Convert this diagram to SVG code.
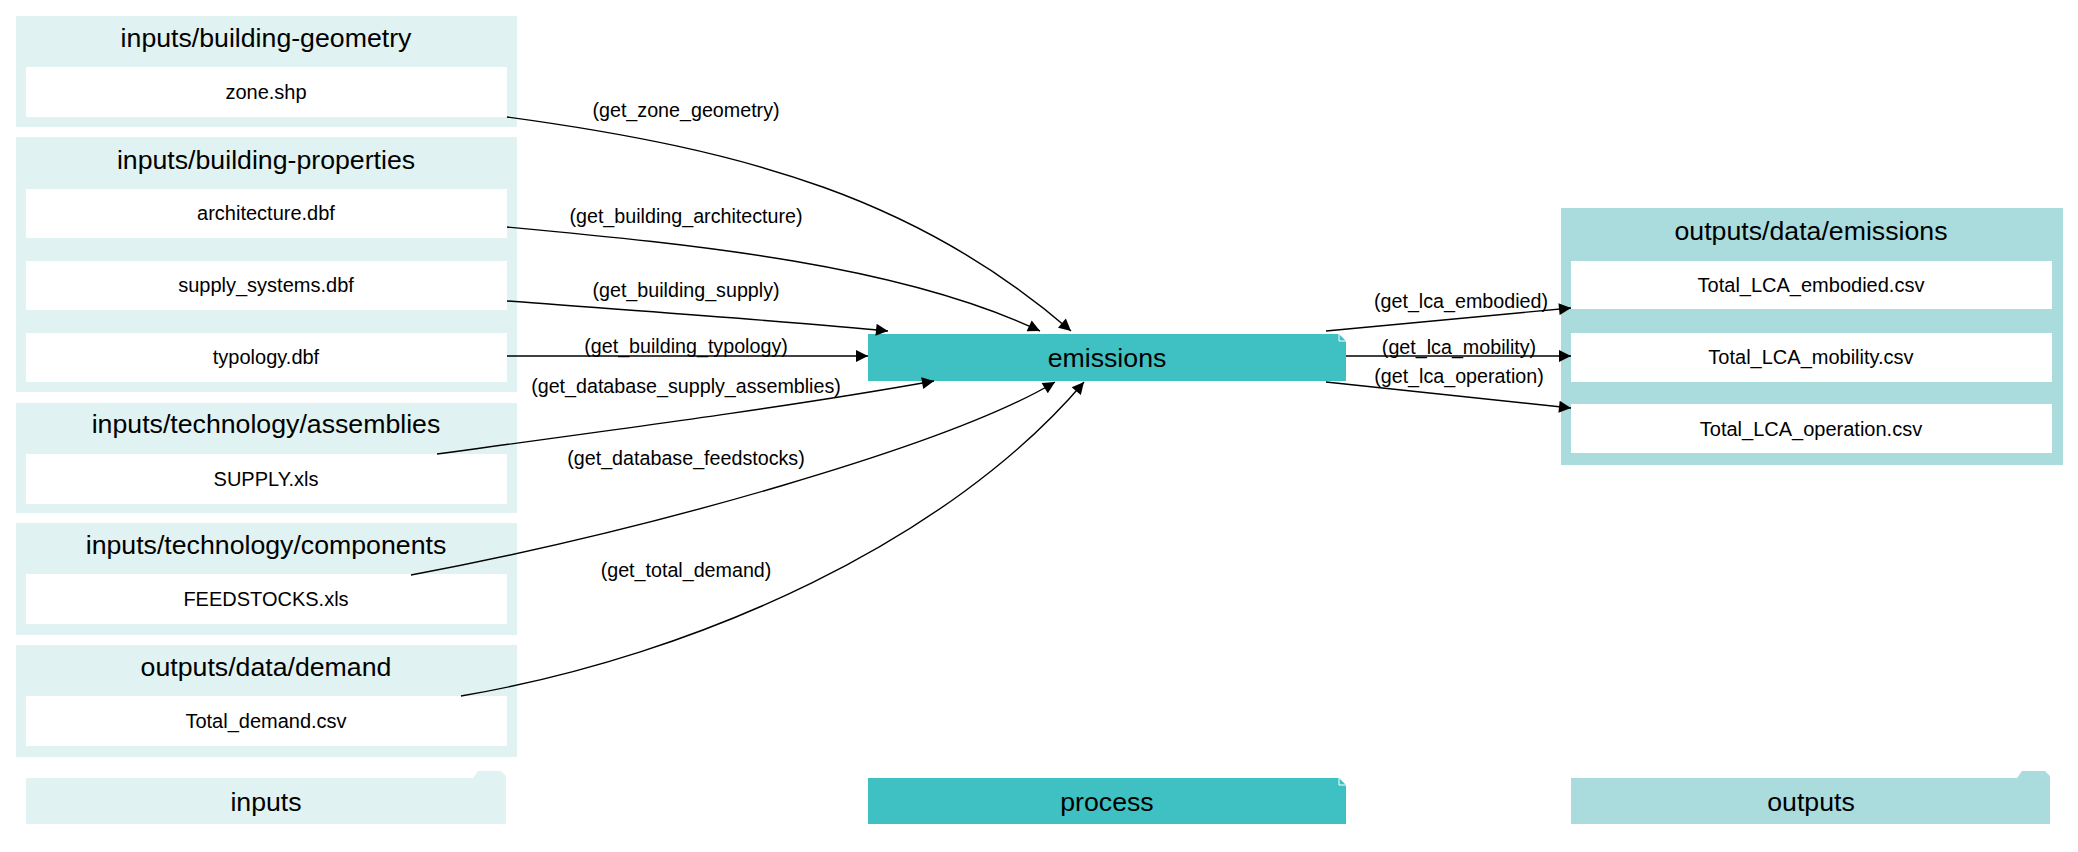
<svg xmlns="http://www.w3.org/2000/svg" width="2078" height="852" viewBox="0 0 2078 852">
<style>
text{font-family:"Liberation Sans",Arial,sans-serif;fill:#000;text-anchor:middle;dominant-baseline:central}
.ci{fill:#e0f2f1}.co{fill:#aadcdd}.pr{fill:#3fc0c2}.f{fill:#fff}
.t{font-size:26.7px}.n{font-size:20px}.l{font-size:19.7px}
.e{fill:none;stroke:#000;stroke-width:1.4;marker-end:url(#a)}
</style>
<defs><marker id="a" viewBox="0 0 10 10" refX="10" refY="5" markerWidth="14" markerHeight="12" markerUnits="userSpaceOnUse" orient="auto"><path d="M0,0L10,5L0,10z" fill="#000"/></marker></defs>
<g id="inputs-building-geometry"><rect class="ci" x="16" y="16" width="501" height="111"/><text class="t" x="266" y="38">inputs/building-geometry</text>
<g id="zone"><rect class="f" x="26" y="67" width="481" height="50"/><text class="n" x="266" y="92">zone.shp</text></g></g>
<g id="inputs-building-properties"><rect class="ci" x="16" y="137" width="501" height="255"/><text class="t" x="266" y="160">inputs/building-properties</text>
<g id="architecture"><rect class="f" x="26" y="189" width="481" height="49"/><text class="n" x="266" y="213">architecture.dbf</text></g>
<g id="supply_systems"><rect class="f" x="26" y="261" width="481" height="49"/><text class="n" x="266" y="285">supply_systems.dbf</text></g>
<g id="typology"><rect class="f" x="26" y="333" width="481" height="49"/><text class="n" x="266" y="357">typology.dbf</text></g></g>
<g id="inputs-technology-assemblies"><rect class="ci" x="16" y="403" width="501" height="110"/><text class="t" x="266" y="424">inputs/technology/assemblies</text>
<g id="SUPPLY"><rect class="f" x="26" y="454" width="481" height="50"/><text class="n" x="266" y="479">SUPPLY.xls</text></g></g>
<g id="inputs-technology-components"><rect class="ci" x="16" y="523" width="501" height="112"/><text class="t" x="266" y="545">inputs/technology/components</text>
<g id="FEEDSTOCKS"><rect class="f" x="26" y="574" width="481" height="50"/><text class="n" x="266" y="599">FEEDSTOCKS.xls</text></g></g>
<g id="outputs-data-demand"><rect class="ci" x="16" y="645" width="501" height="112"/><text class="t" x="266" y="667">outputs/data/demand</text>
<g id="Total_demand"><rect class="f" x="26" y="696" width="481" height="50"/><text class="n" x="266" y="721">Total_demand.csv</text></g></g>
<g id="emissions"><path class="pr" d="M868,334H1339L1346,341V381H868z"/><path d="M1339,334V341H1346" fill="none" stroke="#fff" stroke-width="1"/><text class="t" x="1107" y="358">emissions</text></g>
<g id="outputs-data-emissions"><rect class="co" x="1561" y="208" width="502" height="257"/><text class="t" x="1811" y="231">outputs/data/emissions</text>
<g id="embodied"><rect class="f" x="1571" y="261" width="481" height="48"/><text class="n" x="1811" y="285">Total_LCA_embodied.csv</text></g>
<g id="mobility"><rect class="f" x="1571" y="333" width="481" height="49"/><text class="n" x="1811" y="357">Total_LCA_mobility.csv</text></g>
<g id="operation"><rect class="f" x="1571" y="404" width="481" height="49"/><text class="n" x="1811" y="429">Total_LCA_operation.csv</text></g></g>
<g id="legend-inputs"><path class="ci" d="M26,778H473L478,771H501L506,776V824H26z"/><text class="t" x="266" y="802">inputs</text></g>
<g id="legend-process"><path class="pr" d="M868,778H1339L1346,785V824H868z"/><path d="M1339,778V785H1346" fill="none" stroke="#fff" stroke-width="1"/><text class="t" x="1107" y="802">process</text></g>
<g id="legend-outputs"><path class="co" d="M1571,778H2017L2022,771H2045L2050,776V824H1571z"/><text class="t" x="1811" y="802">outputs</text></g>
<g id="connectors">
<path class="e" d="M507,117C750,150 920,200 1071,331"/>
<path class="e" d="M507,227C700,245 900,265 1040,331"/>
<path class="e" d="M507,301C650,312 800,322 888,331"/>
<path class="e" d="M507,356H868"/>
<path class="e" d="M437,454C650,425 800,405 934,381"/>
<path class="e" d="M411,575C650,530 950,445 1055,382"/>
<path class="e" d="M461,696C700,655 950,540 1084,382"/>
<path class="e" d="M1326,331L1571,308"/>
<path class="e" d="M1346,356H1571"/>
<path class="e" d="M1326,382L1571,408"/>
<text class="l" x="686" y="110">(get_zone_geometry)</text>
<text class="l" x="686" y="216">(get_building_architecture)</text>
<text class="l" x="686" y="290">(get_building_supply)</text>
<text class="l" x="686" y="346">(get_building_typology)</text>
<text class="l" x="686" y="386">(get_database_supply_assemblies)</text>
<text class="l" x="686" y="458">(get_database_feedstocks)</text>
<text class="l" x="686" y="570">(get_total_demand)</text>
<text class="l" x="1461" y="301">(get_lca_embodied)</text>
<text class="l" x="1459" y="347">(get_lca_mobility)</text>
<text class="l" x="1459" y="376">(get_lca_operation)</text>
</g>
</svg>
